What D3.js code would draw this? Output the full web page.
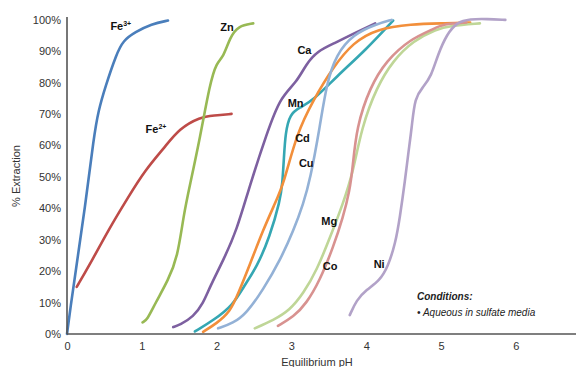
<!DOCTYPE html>
<html>
<head>
<meta charset="utf-8">
<script src="https://cdn.jsdelivr.net/npm/d3@7"></script>
<style>
  body { margin: 0; background: #fff; }
  svg { display: block; font-family: "Liberation Sans", Arial, sans-serif; }
</style>
</head>
<body>
<svg id="chart" width="576" height="367"></svg>
<script>
// extraction curves, [pH, % extraction]
var fe3 = [[0,0],[0.05,9],[0.11,19],[0.24,40],[0.36,63],[0.42,71],[0.51,78.5],[0.66,89],[0.75,93.3],[0.91,96],[1.13,98.6],[1.35,99.7]];
var fe2 = [[0.13,15],[0.29,21.4],[0.55,33],[0.82,43.6],[1.04,52],[1.31,59.5],[1.5,65.3],[1.78,69],[1.96,69.5],[2.2,70]];
var zn = [[1.01,3.7],[1.07,4.4],[1.18,9.8],[1.35,17],[1.48,24.5],[1.56,38],[1.64,47],[1.78,62.6],[1.91,79.6],[2.0,86.4],[2.09,88],[2.18,94.4],[2.29,98],[2.49,98.8]];
var ca = [[1.42,2.2],[1.51,2.9],[1.69,5.5],[1.82,9.7],[1.91,15],[2.09,23.5],[2.27,33],[2.44,47],[2.67,63.7],[2.85,75.3],[3.07,80],[3.2,86],[3.35,90],[3.56,92.3],[3.87,96],[4.12,98.8]];
var mn = [[1.71,0.8],[1.96,4.4],[2.22,9.2],[2.36,15],[2.54,21.4],[2.71,30.9],[2.85,42.5],[2.88,48],[2.9,56],[2.92,64],[2.98,70],[3.11,72],[3.29,74.3],[3.6,81.8],[4.0,90.5],[4.36,99.7]];
var cd = [[1.82,0.7],[2.0,3.4],[2.18,7],[2.29,12.9],[2.45,22.4],[2.62,33],[2.78,41.5],[2.9,48],[3.07,63.7],[3.29,74.3],[3.56,85],[3.83,92.8],[4.14,97],[4.59,98.6],[5.08,98.8],[5.39,99.1]];
var cu = [[2.02,1.8],[2.22,3.4],[2.4,6.6],[2.62,14],[2.85,23.5],[3.03,33],[3.16,41.5],[3.25,49],[3.38,65.8],[3.47,79.6],[3.6,89],[3.83,95.4],[4.14,98.6],[4.34,99.9]];
var mg = [[2.51,1.8],[2.76,4.4],[2.98,7.6],[3.16,12.9],[3.34,20.3],[3.52,30.9],[3.69,41.5],[3.82,51],[3.94,65.8],[4.14,78.5],[4.36,87],[4.63,93.3],[4.94,97],[5.12,98],[5.52,98.8]];
var co = [[2.82,2.6],[3.03,5.5],[3.2,9.7],[3.38,17],[3.56,27.7],[3.69,37],[3.78,45.7],[3.82,53],[3.87,65.8],[4.05,78.5],[4.27,87],[4.59,93.8],[4.9,97],[5.03,98.6],[5.34,99.1]];
var ni = [[3.78,6],[3.87,10.8],[4.0,14],[4.18,17],[4.29,21.4],[4.39,28.8],[4.45,37],[4.52,49],[4.56,57],[4.61,65.8],[4.65,75.3],[4.76,78.5],[4.87,82],[4.96,89],[5.08,95.4],[5.21,99.1],[5.39,100.2],[5.61,100.2],[5.86,99.9]];

var metals = ["Fe3+", "Fe2+", "Zn", "Ca", "Mn", "Cd", "Cu", "Mg", "Co", "Ni"];
var curves = [fe3, fe2, zn, ca, mn, cd, cu, mg, co, ni];
var colors = ["#4a7ebb", "#be4b48", "#98b954", "#7d60a0", "#35a7b3", "#f28f3b", "#93b1d6", "#bfd697", "#d89290", "#b2a2c8"];
// label anchor points [pH, %] (left edge, baseline)
var labelPos = [[0.58,96.8],[1.05,63.9],[2.05,96.5],[3.08,89],[2.95,72.2],[3.05,61],[3.1,53],[3.4,34.6],[3.42,20.4],[4.1,21]];

var xTicks = [0, 1, 2, 3, 4, 5, 6];
var yTicks = [0, 10, 20, 30, 40, 50, 60, 70, 80, 90, 100];

var svg = d3.select("#chart");
var x0 = 67, y0 = 334;
var x = d3.scaleLinear().domain([0, 7]).range([x0, x0 + 7 * 74.8]);
var y = d3.scaleLinear().domain([0, 100]).range([y0, y0 - 314.4]);

var line = d3.line()
    .x(function(d) { return x(d[0]); })
    .y(function(d) { return y(d[1]); })
    .curve(d3.curveBasis);

svg.selectAll("path.curve")
    .data(curves)
    .enter()
    .append("path")
    .attr("class", "curve")
    .attr("d", line)
    .attr("fill", "none")
    .attr("stroke", function(d, i) { return colors[i]; })
    .attr("stroke-width", 2.6)
    .attr("stroke-linecap", "round")
    .attr("stroke-linejoin", "round");

// axes
var xAxis = svg.append("g")
    .attr("transform", "translate(0," + y0 + ")")
    .call(d3.axisBottom(x).tickValues(xTicks).tickSize(0).tickPadding(8).tickFormat(d3.format("d")));
xAxis.select(".domain").attr("d", "M" + x0 + ",0H576").attr("stroke", "#555").attr("stroke-width", 1.6);
xAxis.selectAll("text").attr("font-size", "11px").attr("fill", "#333").attr("font-family", "Liberation Sans, Arial, sans-serif");

var yAxis = svg.append("g")
    .attr("transform", "translate(" + x0 + ",0)")
    .call(d3.axisLeft(y).tickValues(yTicks).tickSize(0).tickPadding(6).tickFormat(function(d) { return d + "%"; }));
yAxis.select(".domain").attr("d", "M0,17V" + y0).attr("stroke", "#555").attr("stroke-width", 1.6);
yAxis.selectAll("text").attr("font-size", "11px").attr("fill", "#333").attr("font-family", "Liberation Sans, Arial, sans-serif");

svg.append("text")
    .attr("transform", "translate(20,176) rotate(-90)")
    .attr("text-anchor", "middle")
    .attr("font-size", "11px")
    .attr("fill", "#333")
    .text("% Extraction");

svg.append("text")
    .attr("x", 317)
    .attr("y", 366)
    .attr("text-anchor", "middle")
    .attr("font-size", "11px")
    .attr("fill", "#333")
    .text("Equilibrium pH");

// metal labels
var labels = svg.selectAll("text.metal")
    .data(metals)
    .enter()
    .append("text")
    .attr("class", "metal")
    .attr("x", function(d, i) { return x(labelPos[i][0]); })
    .attr("y", function(d, i) { return y(labelPos[i][1]); })
    .attr("font-size", "11px")
    .attr("font-weight", "bold")
    .attr("fill", "#111");
labels.each(function(d) {
    var t = d3.select(this);
    var m = d.match(/^([A-Za-z]+)(\d\+)?$/);
    t.append("tspan").text(m[1]);
    if (m[2]) {
        t.append("tspan").attr("font-size", "7px").attr("dy", -4).text(m[2]);
    }
});

// conditions note
svg.append("text")
    .attr("x", 417).attr("y", 300)
    .attr("font-size", "10px").attr("font-weight", "bold").attr("font-style", "italic")
    .attr("fill", "#222")
    .text("Conditions:");
svg.append("text")
    .attr("x", 417).attr("y", 316)
    .attr("font-size", "10px").attr("font-style", "italic")
    .attr("fill", "#222")
    .text("\u2022 Aqueous in sulfate media");
</script>
</body>
</html>
